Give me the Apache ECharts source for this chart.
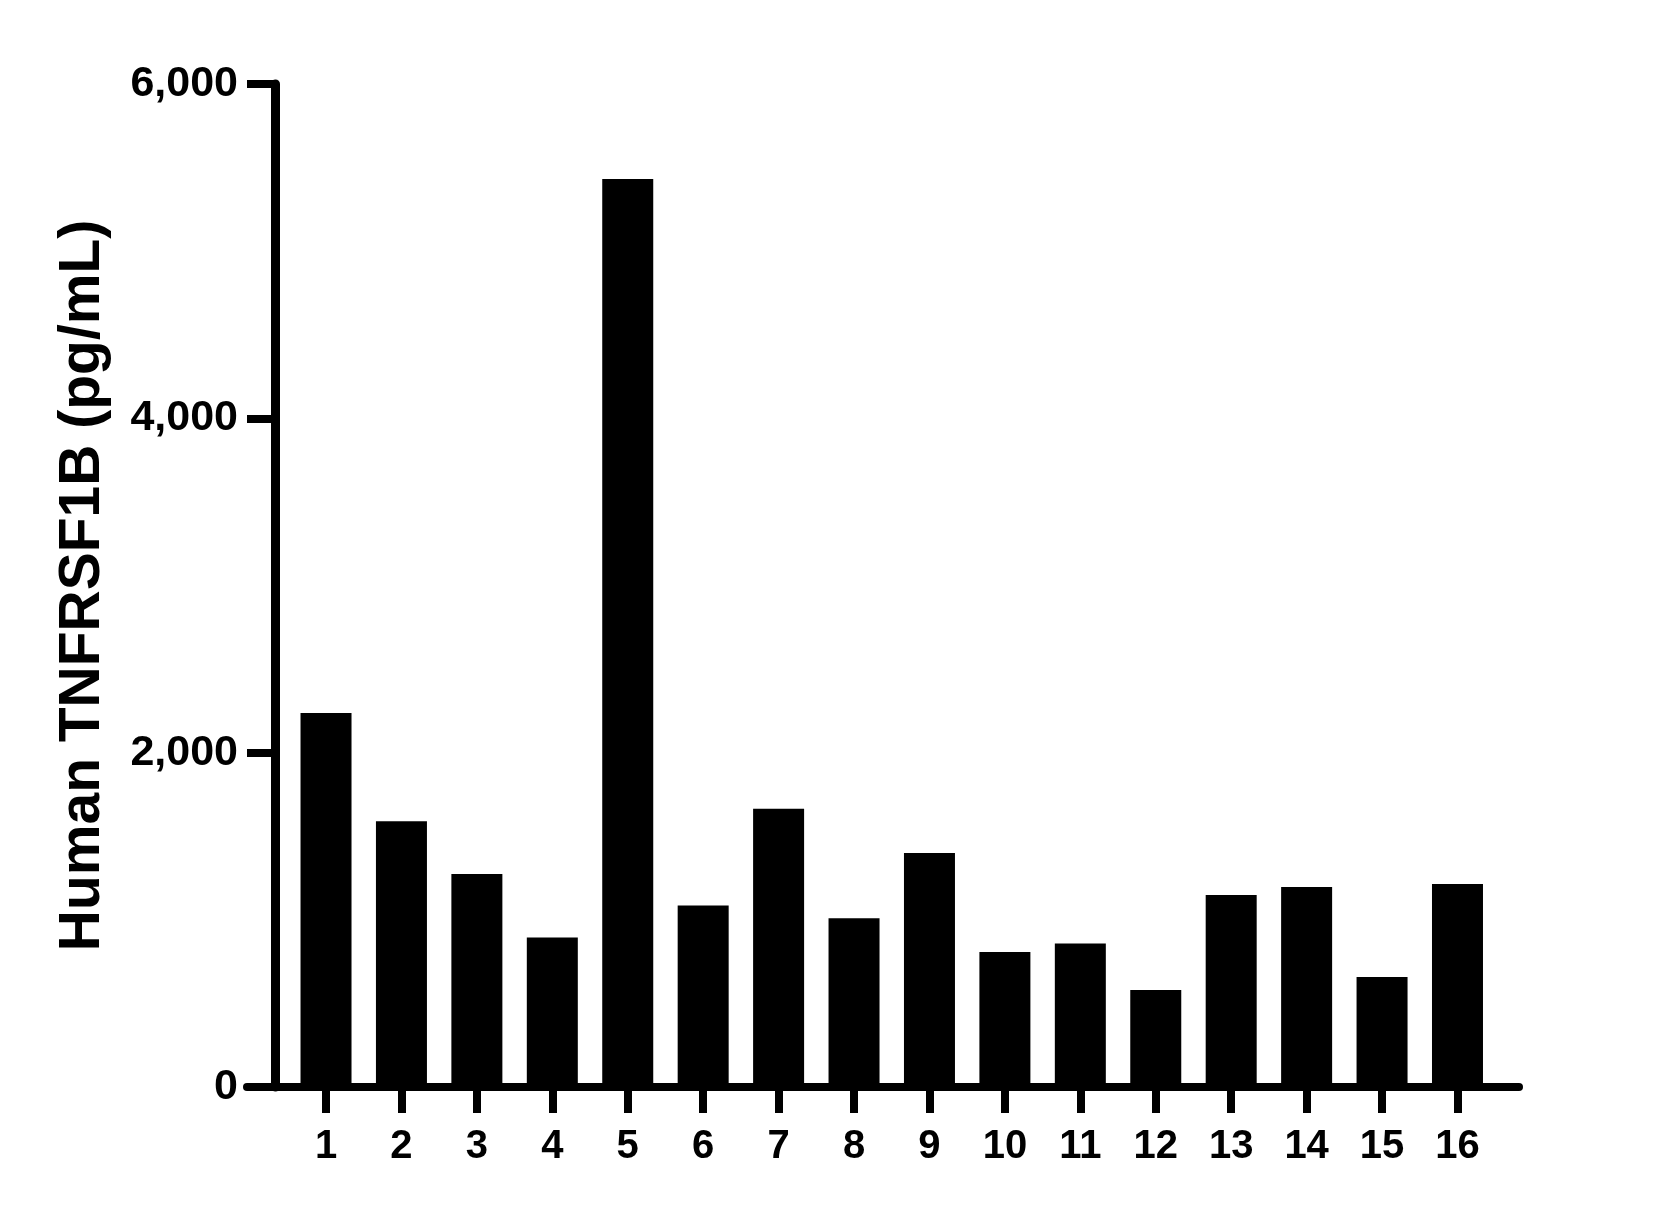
<!DOCTYPE html>
<html>
<head>
<meta charset="utf-8">
<script src="https://cdn.jsdelivr.net/npm/echarts@6/dist/echarts.min.js"></script>
<style>
html,body{margin:0;padding:0;background:#fff;}
#chart{width:1653px;height:1208px;}
</style>
</head>
<body>
<div id="chart"></div>
<script>
const categories = ['1','2','3','4','5','6','7','8','9','10','11','12','13','14','15','16'];
const values = [2238, 1589, 1274, 895, 5432, 1085, 1665, 1009, 1400, 807, 858, 580, 1148, 1196, 658, 1214];
const yTicks = [0, 2000, 4000, 6000];
const yTitle = 'Human TNFRSF1B (pg/mL)';

const FONT = '"Liberation Sans", Arial, sans-serif';
const chart = echarts.init(document.getElementById('chart'), null, {renderer: 'canvas'});
chart.setOption({
  animation: false,
  backgroundColor: '#ffffff',
  grid: [
    {left: 288.3, right: 157.8, top: 84, bottom: 121},
    {left: 247, right: 134, top: 84, bottom: 121}
  ],
  xAxis: [
    {
      type: 'category', gridIndex: 0, data: categories,
      axisLine: {show: false},
      axisTick: {show: true, alignWithLabel: true, length: 26, lineStyle: {color: '#000', width: 8}},
      axisLabel: {color: '#000', fontFamily: FONT, fontWeight: 'bold', fontSize: 40, margin: 40},
      splitLine: {show: false}
    },
    {
      type: 'value', gridIndex: 1, min: 0, max: 1,
      axisLine: {show: true, onZero: false, lineStyle: {color: '#000', width: 8}},
      axisTick: {show: false}, axisLabel: {show: false}, splitLine: {show: false}
    }
  ],
  yAxis: [
    {
      type: 'value', gridIndex: 0, min: yTicks[0], max: yTicks[yTicks.length - 1], interval: 2000,
      offset: 13.3,
      name: yTitle, nameLocation: 'middle', nameGap: 163,
      nameTextStyle: {color: '#000', fontFamily: FONT, fontWeight: 'bold', fontSize: 57},
      axisLine: {show: true, lineStyle: {color: '#000', width: 9}},
      axisTick: {show: true, length: 28, lineStyle: {color: '#000', width: 8}},
      axisLabel: {color: '#000', fontFamily: FONT, fontWeight: 'bold', fontSize: 43, margin: 37,
        formatter: v => v.toLocaleString('en-US')},
      splitLine: {show: false}
    },
    {
      type: 'value', gridIndex: 1, min: 0, max: 6000, show: false
    }
  ],
  series: [{
    type: 'bar', xAxisIndex: 0, yAxisIndex: 0, data: values,
    barWidth: 51, itemStyle: {color: '#000'}
  }]
});
</script>
</body>
</html>
